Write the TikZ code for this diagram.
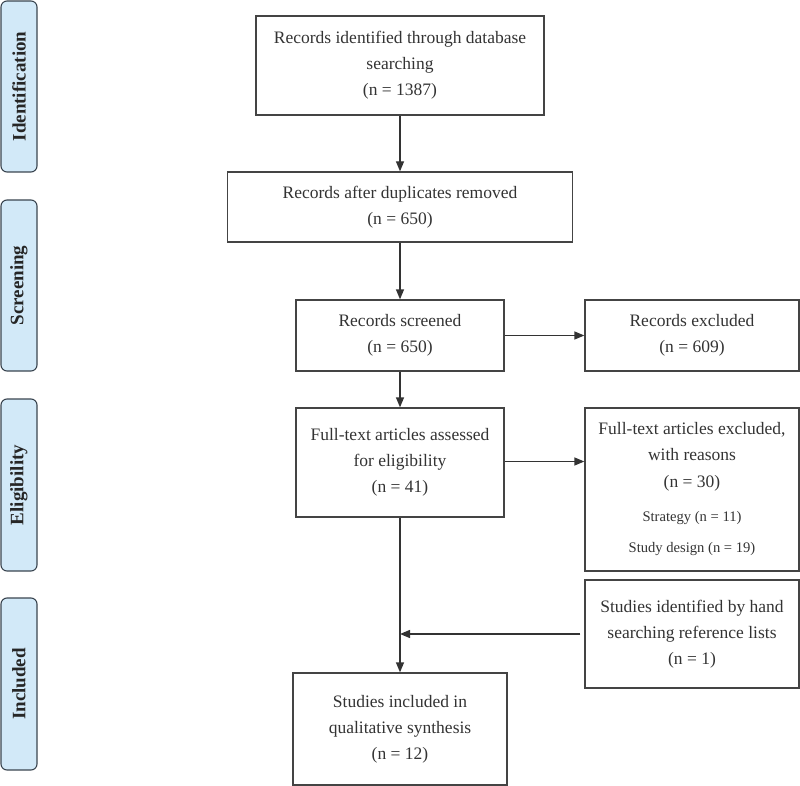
\documentclass[tikz,border=0pt]{standalone}
\usepackage{fontspec}
\setmainfont{Liberation Serif}
\usetikzlibrary{arrows.meta}

\definecolor{boxline}{HTML}{444444}
\definecolor{boxtext}{HTML}{333333}
\definecolor{phasefill}{HTML}{D2E9F8}
\definecolor{phaseline}{HTML}{3A4550}

\begin{document}
\begin{tikzpicture}[x=1pt, y=-1pt,
  box/.style={draw=boxline, line width=1.3pt, rectangle, align=center,
    text=boxtext, font=\fontsize{17.5}{26}\selectfont, inner sep=0pt},
  phase/.style={draw=phaseline, fill=phasefill, line width=1.1pt,
    rounded corners=6pt, minimum height=36pt, rotate=90,
    font=\fontsize{19}{20}\selectfont\bfseries, text=black!85},
  arr/.style={-{Triangle[length=10pt,width=8pt]}, line width=1.3pt, draw=black!80}]

  \useasboundingbox (0,0) rectangle (800,786);

  % phases on the left
  \node[phase, minimum width=171pt] (ident) at (19, 86.5) {Identification};
  \node[phase, minimum width=171pt] (screen) at (19, 285.5) {Screening};
  \node[phase, minimum width=172pt] (elig) at (19, 485) {Eligibility};
  \node[phase, minimum width=172pt] (incl) at (19, 684) {Included};

  % main column
  \node[box, minimum width=288pt, minimum height=99pt] (found) at (400, 65.5)
    {Records identified through database\\ searching\\ (n = 1387)};
  \node[box, minimum width=345pt, minimum height=70pt] (dedup) at (400, 207)
    {Records after duplicates removed\\ (n = 650)};
  \node[box, minimum width=208pt, minimum height=71pt] (screened) at (400, 335.5)
    {Records screened\\ (n = 650)};
  \node[box, minimum width=208pt, minimum height=109pt] (fulltext) at (400, 462.5)
    {Full-text articles assessed\\ for eligibility\\ (n = 41)};
  \node[box, minimum width=214pt, minimum height=112pt] (studies) at (400, 729)
    {Studies included in\\ qualitative synthesis\\ (n = 12)};

  % right column
  \node[box, minimum width=214pt, minimum height=71pt] (excl) at (692, 335.5)
    {Records excluded\\ (n = 609)};
  \node[box, minimum width=214pt, minimum height=163pt] (ftexcl) at (692, 489.5)
    {Full-text articles excluded,\\ with reasons\\ (n = 30)\\[8pt]
     {\fontsize{14.6}{22}\selectfont Strategy (n = 11)}\\[6pt]
     {\fontsize{14.6}{22}\selectfont Study design (n = 19)}};
  \node[box, minimum width=214pt, minimum height=108pt] (hand) at (692, 634)
    {Studies identified by hand\\ searching reference lists\\ (n = 1)};

  \coordinate (join) at (fulltext.south |- hand.west);

  \draw[arr] (found) -- (dedup);
  \draw[arr] (dedup) -- (screened);
  \draw[arr] (screened) -- (fulltext);
  \draw[arr] (screened) -- (excl);
  \draw[arr] (fulltext.east |- ftexcl.west) ++(0,-28) coordinate (ftout) -- (ftout -| ftexcl.west);
  \draw[arr] (fulltext) -- (studies);
  \draw[arr, shorten <=4pt] (hand.west) -- (join);

\end{tikzpicture}
\end{document}
